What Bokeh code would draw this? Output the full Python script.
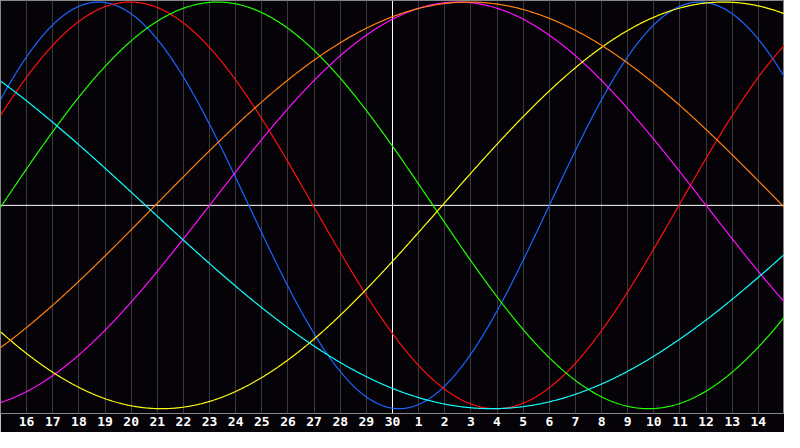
import numpy as np
from bokeh.plotting import figure
from bokeh.models import Range1d, LinearAxis, FixedTicker, Grid, Span
from bokeh.embed import file_html
from bokeh.resources import INLINE

# Biorhythm cycles
cycle_names = ["Physical", "Emotional", "Intellectual", "Intuitive", "Aesthetic", "Awareness", "Spiritual"]
cycle_periods = [23, 28, 33, 38, 43, 48, 53]            # days
cycle_zero_up = [-2.0, -2.04, 0.05, 8.0, 16.91, 5.92, -20.95]  # day (from left edge) of an upward zero crossing
cycle_colors = ["#1a66ff", "#ff1010", "#22ff00", "#ff10ff", "#ffff10", "#ff8010", "#10ffff"]

# Day labels at each day boundary (left edge = 0, right edge = 30)
tick_positions = list(range(1, 30))
tick_labels = [str(d) for d in list(range(16, 31)) + list(range(1, 15))]
today_pos = 15

BG = "#050308"

p = figure(width=784, height=432, output_backend="svg", toolbar_location=None,
           x_axis_type=None, y_axis_type=None,
           x_range=Range1d(0, 30), y_range=Range1d(-1.0237, 1.0076),
           background_fill_color=BG, border_fill_color=BG,
           min_border_left=0, min_border_right=0, min_border_top=0, min_border_bottom=19,
           outline_line_color="#888888", outline_line_width=1)

ticker = FixedTicker(ticks=tick_positions)
grid = Grid(dimension=0, ticker=ticker, grid_line_color="#3a3a3a", grid_line_width=1)
p.add_layout(grid)

axis = LinearAxis(ticker=ticker,
                  major_label_overrides={t: l for t, l in zip(tick_positions, tick_labels)},
                  axis_line_color=None, major_tick_line_color=None, minor_tick_line_color=None,
                  major_tick_out=0, major_tick_in=0, major_label_standoff=3,
                  major_label_text_color="#ffffff", major_label_text_font="DejaVu Sans Mono",
                  major_label_text_font_style="bold", major_label_text_font_size="13px")
p.add_layout(axis, "below")

p.add_layout(Span(location=0, dimension="width", line_color="#ffffff", line_width=1, level="underlay"))
p.add_layout(Span(location=today_pos, dimension="height", line_color="#ffffff", line_width=1, level="underlay"))

t = np.linspace(0, 30, 901)
for name, per, z, col in zip(cycle_names, cycle_periods, cycle_zero_up, cycle_colors):
    y = np.sin(2 * np.pi * (t - z) / per)
    p.line(t, y, line_color=col, line_width=1.2)

open("out.html", "w").write(file_html(p, INLINE))
